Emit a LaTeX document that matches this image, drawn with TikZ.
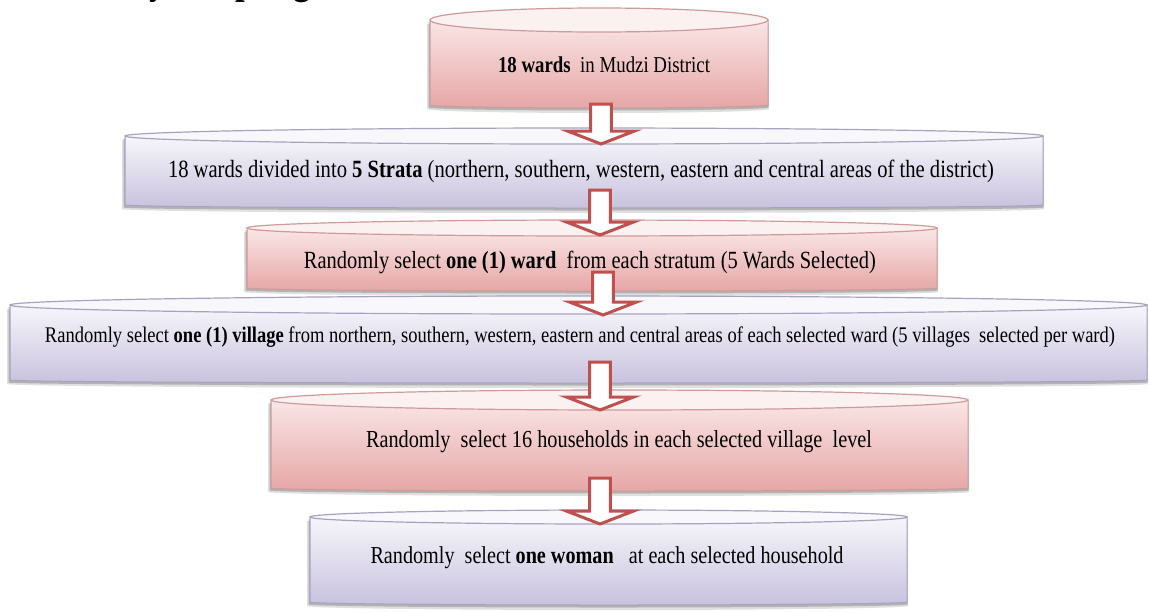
\documentclass[tikz,border=0pt]{standalone}
\usepackage{fontspec}
\setmainfont{Liberation Serif}[FakeStretch=0.83]
\usetikzlibrary{calc}
\definecolor{pkend}{HTML}{FCF1F1}
\definecolor{pktop}{HTML}{FAE6E6}
\definecolor{pkbot}{HTML}{E6A6A6}
\definecolor{pkline}{HTML}{CF9A9A}
\definecolor{lvend}{HTML}{F8F8FC}
\definecolor{lvtop}{HTML}{F7F6FB}
\definecolor{lvbot}{HTML}{C8C2DE}
\definecolor{lvline}{HTML}{A7A2C1}
\definecolor{arrred}{HTML}{C0504D}
\definecolor{shadowc}{HTML}{707070}

% #1 x1, #2 x2, #3 top, #4 bottom, #5 ry, #6 colour prefix
\newcommand\cylbox[6]{%
  \pgfmathsetmacro\cxa{(#1+#2)/2}%
  \pgfmathsetmacro\rxa{(#2-#1)/2}%
  \pgfmathsetmacro\cya{-(#3)-(#5)}%
  \pgfmathsetmacro\bya{-(#4)}%
  \fill[shadowc,opacity=.22] (#1-3,\cya-4) -- (#1-3,\bya-4) arc[start angle=180,end angle=360,x radius={(\rxa+2)*0.5pt},y radius=2pt] -- (#2+1,\cya-4) -- cycle;
  \fill[shadowc,opacity=.4] (#1-1.5,\cya-2) -- (#1-1.5,\bya-2.5) arc[start angle=180,end angle=360,x radius={(\rxa+1)*0.5pt},y radius=1.5pt] -- (#2,\cya-2) -- cycle;
  \shade[top color=#6top,bottom color=#6bot,draw=#6line,line width=.5pt] (#1,\cya) -- (#1,\bya) arc[start angle=180,end angle=360,x radius={\rxa*0.5pt},y radius=1.5pt] -- (#2,\cya) -- cycle;
  \filldraw[fill=#6end,draw=#6line,line width=.6pt] (\cxa,\cya) ellipse[x radius={\rxa*0.5pt},y radius={#5*0.5pt}];
}

\tikzset{
  txt/.style={inner sep=0pt, text=black},
  blockarr/.style={draw=arrred, fill=white, line width=1.5pt, line join=miter,
    to path={let \p1=(\tikztostart), \p2=(\tikztotarget) in
      (\x1-5.2pt,\y1) -- (\x1-5.2pt,\y2+6.5pt) -- (\x1-16.8pt,\y2+6.5pt) -- (\x1,\y2)
      -- (\x1+16.8pt,\y2+6.5pt) -- (\x1+5.2pt,\y2+6.5pt) -- (\x1+5.2pt,\y1) -- cycle}},
}

\begin{document}
\begin{tikzpicture}[x=0.5pt,y=0.5pt]
\useasboundingbox (0,0) rectangle (1149,-611);
\fill[white] (0,0) rectangle (1149,-611);

% partly visible heading
\node[txt, anchor=base west, font=\bfseries\fontsize{21}{24}\selectfont] (head) at (79,7) {Study sampling};

% boxes
\cylbox{430}{768}{8}{105}{12}{pk}
\node[txt] (b1) at (604,-65) {\resizebox{106pt}{!}{\textbf{18 wards}\ \ in Mudzi District}};

\cylbox{125}{1043}{128}{205}{8}{lv}
\node[txt] (b2) at (581,-171) {\resizebox{413pt}{!}{18 wards divided into \textbf{5 Strata} (northern, southern, western, eastern and central areas of the district)}};

\cylbox{247}{937}{220}{288}{8}{pk}
\node[txt] (b3) at (590,-262) {\resizebox{286pt}{!}{Randomly select \textbf{one (1) ward}\ \ from each stratum (5 Wards Selected)}};

\cylbox{10}{1147}{296}{380}{9}{lv}
\node[txt] (b4) at (580,-337) {\resizebox{535pt}{!}{Randomly select \textbf{one (1) village} from northern, southern, western, eastern and central areas of each selected ward (5 villages\ \ selected per ward)}};

\cylbox{271}{968}{390}{488}{10}{pk}
\node[txt] (b5) at (619,-442) {\resizebox{253pt}{!}{Randomly\ \ select 16 households in each selected village\ \ level}};

\cylbox{310}{907}{510}{602}{7}{lv}
\node[txt] (b6) at (607,-558) {\resizebox{236.5pt}{!}{Randomly\ \ select \textbf{one woman}\ \ \ at each selected household}};

% arrows
\coordinate (a1s) at (601,-104); \coordinate (a1e) at (601,-144);
\coordinate (a2s) at (600,-190); \coordinate (a2e) at (600,-235);
\coordinate (a3s) at (603,-272); \coordinate (a3e) at (603,-315);
\coordinate (a4s) at (600,-362); \coordinate (a4e) at (600,-410);
\coordinate (a5s) at (600,-478); \coordinate (a5e) at (600,-524);
\draw[blockarr] (a1s) to (a1e);
\draw[blockarr] (a2s) to (a2e);
\draw[blockarr] (a3s) to (a3e);
\draw[blockarr] (a4s) to (a4e);
\draw[blockarr] (a5s) to (a5e);
\end{tikzpicture}
\end{document}
